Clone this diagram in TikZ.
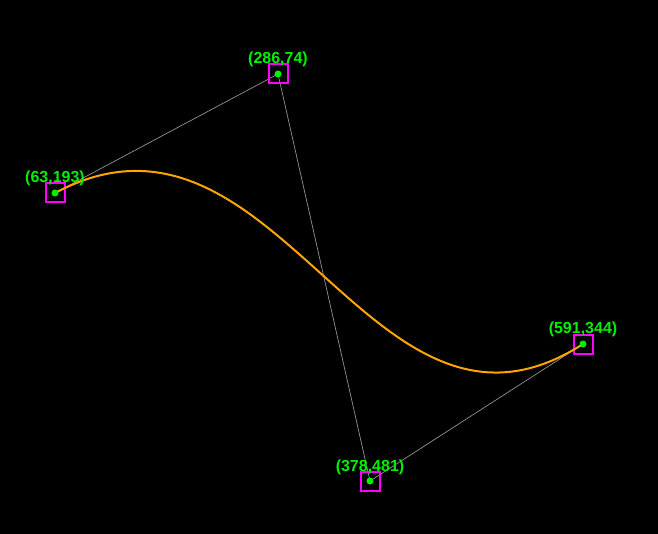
\documentclass[tikz,border=0pt]{standalone}
\usepackage{fontspec}
\setmainfont{Liberation Sans}
\usetikzlibrary{positioning}

\definecolor{ptgreen}{RGB}{0,240,0}
\definecolor{boxmagenta}{RGB}{255,0,255}
\definecolor{curveorange}{RGB}{255,165,0}
\tikzset{
  handle/.style={draw=boxmagenta, line width=2pt, minimum size=19pt, inner sep=0pt},
  dot/.style={circle, fill=ptgreen, inner sep=0pt, minimum size=7pt},
  coord/.style={text=ptgreen, anchor=base, inner sep=0pt,
    font=\bfseries\fontsize{16}{16}\selectfont},
  ctrl/.style={draw=gray!85, line width=0.7pt},
}

\begin{document}
\begin{tikzpicture}[x=1pt, y=-1pt]
    \fill[black] (0,0) rectangle (658,534);
    \coordinate (p0) at (55,193);
    \coordinate (p1) at (278,74);
    \coordinate (p2) at (370,481);
    \coordinate (p3) at (583,344);
    % control polygon
    \path[ctrl] (p0) -- (p1);
    \path[ctrl] (p1) -- (p2);
    \path[ctrl] (p2) -- (p3);
    \node[handle] (h0) at (p0) {};
    \node[handle] (h1) at (p1) {};
    \node[handle] (h2) at (p2) {};
    \node[handle] (h3) at (p3) {};
    % the curve
    \draw[curveorange, line width=2pt] (p0) .. controls (p1) and (p2) .. (p3);
    \node[dot] (d0) at (p0) {};
    \node[dot] (d1) at (p1) {};
    \node[dot] (d2) at (p2) {};
    \node[dot] (d3) at (p3) {};
    \node[coord] (t0) at ([yshift=10pt]p0) {(63,193)};
    \node[coord] (t1) at ([yshift=10pt]p1) {(286,74)};
    \node[coord] (t2) at ([yshift=10pt]p2) {(378,481)};
    \node[coord] (t3) at ([yshift=10pt]p3) {(591,344)};
\end{tikzpicture}
\end{document}
